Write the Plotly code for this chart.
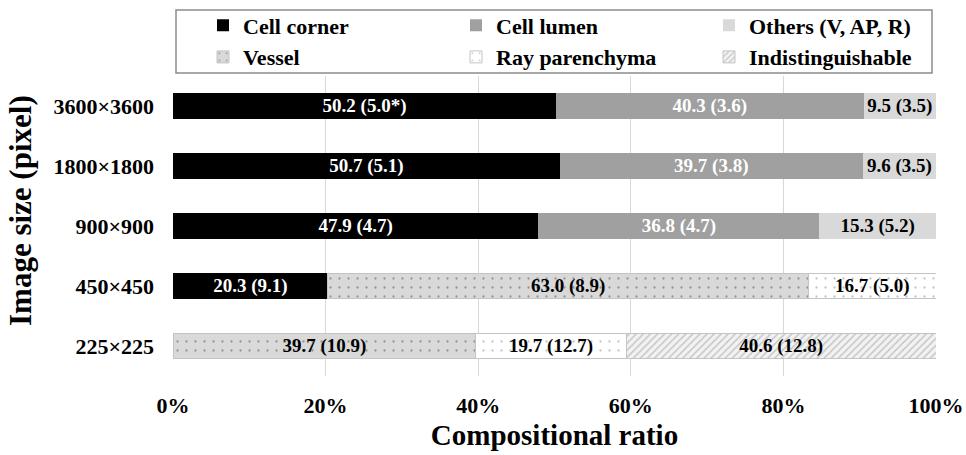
import plotly.graph_objects as go

# Image sizes (top to bottom) and compositional ratios (%) with standard deviations
sizes = ["3600×3600", "1800×1800", "900×900", "450×450", "225×225"]

cell_corner = [50.2, 50.7, 47.9, 20.3, None]
cell_corner_sd = [5.0, 5.1, 4.7, 9.1, None]
cell_lumen = [40.3, 39.7, 36.8, None, None]
cell_lumen_sd = [3.6, 3.8, 4.7, None, None]
others = [9.5, 9.6, 15.3, None, None]
others_sd = [3.5, 3.5, 5.2, None, None]
vessel = [None, None, None, 63.0, 39.7]
vessel_sd = [None, None, None, 8.9, 10.9]
ray = [None, None, None, 16.7, 19.7]
ray_sd = [None, None, None, 5.0, 12.7]
indist = [None, None, None, None, 40.6]
indist_sd = [None, None, None, None, 12.8]

# footnote marks appended to particular SD labels
sd_marks = {("Cell corner", "3600×3600"): "*"}

x_ticks = [0, 20, 40, 60, 80, 100]

FONT = "Liberation Serif, Times New Roman, serif"


def labels(name, vals, sds):
    out = []
    for cat, v, s in zip(sizes, vals, sds):
        if v is None:
            out.append("")
        else:
            out.append(f"{v:.1f} ({s:.1f}{sd_marks.get((name, cat), '')})")
    return out


series = [
    dict(name="Cell corner", x=cell_corner, sd=cell_corner_sd, color="#000000",
         text_color="white", pattern=None, line=0),
    dict(name="Cell lumen", x=cell_lumen, sd=cell_lumen_sd, color="#a0a0a0",
         text_color="white", pattern=None, line=0),
    dict(name="Others (V, AP, R)", x=others, sd=others_sd, color="#d9d9d9",
         text_color="black", pattern=None, line=0),
    dict(name="Vessel", x=vessel, sd=vessel_sd, color="#d9d9d9", text_color="black",
         pattern=dict(shape=".", fgcolor="#4d4d4d", bgcolor="#d9d9d9",
                      size=9, solidity=0.05), line=1),
    dict(name="Ray parenchyma", x=ray, sd=ray_sd, color="#ffffff", text_color="black",
         pattern=dict(shape=".", fgcolor="#8a8a8a", bgcolor="#ffffff",
                      size=9, solidity=0.05), line=1),
    dict(name="Indistinguishable", x=indist, sd=indist_sd, color="#eeeeee",
         text_color="black",
         pattern=dict(shape="/", fgcolor="#9a9a9a", bgcolor="#f2f2f2",
                      size=5, solidity=0.3), line=1),
]

fig = go.Figure()
for s in series:
    marker = dict(color=s["color"],
                  line=dict(color="#c4c4c4", width=s["line"]))
    if s["pattern"] is not None:
        marker["pattern"] = s["pattern"]
    fig.add_trace(go.Bar(
        y=sizes, x=s["x"], name=s["name"], orientation="h",
        marker=marker,
        text=labels(s["name"], s["x"], s["sd"]),
        textposition="inside", insidetextanchor="middle",
        textangle=0, constraintext="none",
        textfont=dict(family=FONT, size=19, color=s["text_color"], weight="bold"),
        hoverinfo="skip",
    ))

W, H = 966, 455
L, R, T, B = 173, 30, 76, 79
pw, ph = W - L - R, H - T - B


def px_x(p):
    return (p - L) / pw


def px_y(p):
    return (H - B - p) / ph


fig.update_layout(
    width=W, height=H,
    margin=dict(l=L, r=R, t=T, b=B, pad=0, autoexpand=False),
    barmode="stack", bargap=0.57,
    plot_bgcolor="white", paper_bgcolor="white",
    font=dict(family=FONT, color="black", weight="bold"),
    showlegend=True,
    legend=dict(
        orientation="h", x=px_x(962), y=px_y(4.5), xanchor="right", yanchor="top",
        entrywidth=208, entrywidthmode="pixels", traceorder="normal",
        font=dict(family=FONT, size=22, color="black", weight="bold"),
        bgcolor="rgba(0,0,0,0)", borderwidth=0,
    ),
    shapes=[dict(type="rect", xref="paper", yref="paper",
                 x0=px_x(176), x1=px_x(932), y0=px_y(73), y1=px_y(10),
                 line=dict(color="#8c8c8c", width=1.5), fillcolor="rgba(0,0,0,0)",
                 layer="above")],
    annotations=[dict(text="Image size (pixel)", textangle=-90, xref="paper",
                      yref="paper", x=px_x(20), y=px_y(211), showarrow=False,
                      xanchor="center", yanchor="middle",
                      font=dict(family=FONT, size=31, color="black", weight="bold"))],
)

fig.update_xaxes(
    range=[0, 100], tickvals=x_ticks, ticktext=[f"{t}%" for t in x_ticks],
    showgrid=True, gridcolor="#d9d9d9", gridwidth=1, zeroline=False,
    showline=False, ticks="", ticklabelstandoff=14, automargin=False,
    tickfont=dict(family=FONT, size=22, color="black", weight="bold"),
    title=dict(text="Compositional ratio", standoff=7,
               font=dict(family=FONT, size=29, color="black", weight="bold")),
    fixedrange=True,
)
fig.update_yaxes(
    categoryorder="array", categoryarray=sizes, autorange="reversed",
    showgrid=False, zeroline=False, showline=False, ticks="",
    ticklabelstandoff=18, automargin=False,
    tickfont=dict(family=FONT, size=22, color="black", weight="bold"),
    fixedrange=True,
)

fig.write_html("out.html")
